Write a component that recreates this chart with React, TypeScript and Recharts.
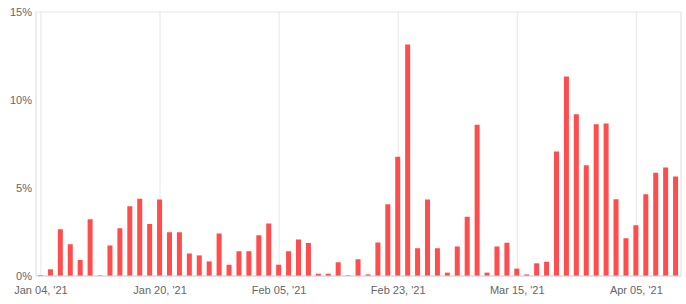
import React from "react";
import { BarChart, Bar, XAxis, YAxis, CartesianGrid } from "recharts";

const dates: string[] = [
  "Jan 04, '21", "Jan 05, '21", "Jan 06, '21", "Jan 07, '21", "Jan 08, '21",
  "Jan 11, '21", "Jan 12, '21", "Jan 13, '21", "Jan 14, '21", "Jan 15, '21",
  "Jan 18, '21", "Jan 19, '21", "Jan 20, '21", "Jan 21, '21", "Jan 22, '21",
  "Jan 25, '21", "Jan 26, '21", "Jan 27, '21", "Jan 28, '21", "Jan 29, '21",
  "Feb 01, '21", "Feb 02, '21", "Feb 03, '21", "Feb 04, '21", "Feb 05, '21",
  "Feb 08, '21", "Feb 09, '21", "Feb 10, '21", "Feb 11, '21", "Feb 12, '21",
  "Feb 15, '21", "Feb 16, '21", "Feb 17, '21", "Feb 18, '21", "Feb 19, '21",
  "Feb 22, '21", "Feb 23, '21", "Feb 24, '21", "Feb 25, '21", "Feb 26, '21",
  "Mar 01, '21", "Mar 02, '21", "Mar 03, '21", "Mar 04, '21", "Mar 05, '21",
  "Mar 08, '21", "Mar 09, '21", "Mar 12, '21", "Mar 15, '21", "Mar 16, '21",
  "Mar 17, '21", "Mar 18, '21", "Mar 19, '21", "Mar 22, '21", "Mar 23, '21",
  "Mar 24, '21", "Mar 25, '21", "Mar 26, '21", "Mar 29, '21", "Mar 31, '21",
  "Apr 05, '21", "Apr 06, '21", "Apr 07, '21", "Apr 08, '21", "Apr 09, '21",
];

const values: number[] = [
  0.05, 0.38, 2.65, 1.8, 0.91, 3.22, 0.04, 1.74, 2.71, 3.96,
  4.39, 2.95, 4.34, 2.48, 2.48, 1.28, 1.17, 0.83, 2.42, 0.64,
  1.4, 1.4, 2.31, 2.99, 0.64, 1.4, 2.08, 1.88, 0.13, 0.13,
  0.78, 0.04, 0.95, 0.09, 1.91, 4.07, 6.78, 13.16, 1.57, 4.34,
  1.57, 0.19, 1.67, 3.37, 8.6, 0.19, 1.67, 1.89, 0.42, 0.09,
  0.72, 0.81, 7.08, 11.34, 9.19, 6.29, 8.62, 8.67, 4.36, 2.14,
  2.88, 4.64, 5.87, 6.16, 5.66,
];

const xTickLabels: string[] = [
  "Jan 04, '21", "Jan 20, '21", "Feb 05, '21", "Feb 23, '21", "Mar 15, '21", "Apr 05, '21",
];

const yMajorTicks: number[] = [0, 5, 10, 15];
const yMinorTicks: number[] = [1, 2, 3, 4, 6, 7, 8, 9, 11, 12, 13, 14];

const data = dates.map((d, i) => ({ date: d, value: values[i] }));

const font = { fontFamily: "'Liberation Sans', Arial, sans-serif", fontSize: 11, fill: "#666666" };

export default function App() {
  return (
    <div style={{ position: "absolute", left: 0, top: 0, width: 686, height: 304, background: "#fff" }}>
      <BarChart
        width={686}
        height={304}
        data={data}
        margin={{ top: 12, right: 0, left: 0, bottom: 0 }}
        barCategoryGap={0}
      >
        <CartesianGrid
          horizontalValues={yMinorTicks}
          vertical={false}
          stroke="#f2f2f2"
        />
        <CartesianGrid stroke="#e6e6e6" />
        <XAxis
          dataKey="date"
          ticks={xTickLabels}
          interval={0}
          tickLine={false}
          tickSize={0}
          tickMargin={10}
          height={28}
          axisLine={{ stroke: "#ccd6eb" }}
          tick={font}
        />
        <YAxis
          yAxisId="left"
          domain={[0, 15]}
          ticks={yMajorTicks}
          allowDataOverflow
          tickFormatter={(v: number) => `${v}%`}
          tickLine={false}
          tickSize={0}
          tickMargin={4}
          width={36}
          axisLine={{ stroke: "#e6e6e6" }}
          tick={font}
        />
        <YAxis
          yAxisId="right"
          orientation="right"
          domain={[0, 15]}
          ticks={yMajorTicks}
          tick={false}
          tickLine={false}
          width={5}
          axisLine={{ stroke: "#e6e6e6" }}
        />
        <Bar
          yAxisId="left"
          dataKey="value"
          fill="#ff4d4d"
          barSize={5}
          isAnimationActive={false}
        />
      </BarChart>
    </div>
  );
}
